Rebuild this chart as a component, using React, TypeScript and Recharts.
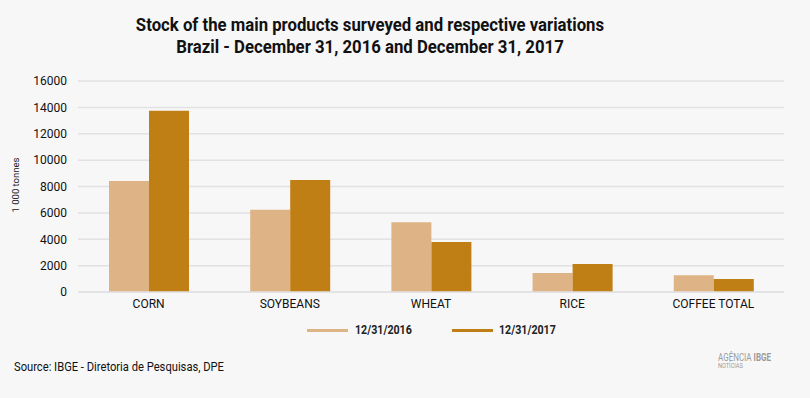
import { BarChart, Bar, XAxis, YAxis, CartesianGrid } from "recharts";

const products = ["CORN", "SOYBEANS", "WHEAT", "RICE", "COFFEE TOTAL"];
const stock2016 = [8420, 6230, 5290, 1440, 1270];
const stock2017 = [13750, 8500, 3790, 2120, 990];
const yTicks = [0, 2000, 4000, 6000, 8000, 10000, 12000, 14000, 16000];

const COLOR_2016 = "#deb385";
const COLOR_2017 = "#c07f14";

const data = products.map((p, i) => ({
  name: p,
  s2016: stock2016[i],
  s2017: stock2017[i],
}));

const legendText = {
  position: "absolute" as const,
  top: 322,
  fontFamily: "Roboto, sans-serif",
  fontSize: 13,
  fontWeight: 700,
  color: "#222",
  lineHeight: "16px",
  whiteSpace: "nowrap" as const,
  transform: "scaleX(0.82)",
  transformOrigin: "0 0",
};

const LegendBox = () => (
  <>
    <div style={{ position: "absolute", left: 307, top: 329, width: 41, height: 3, background: COLOR_2016 }} />
    <div style={{ ...legendText, left: 355 }}>12/31/2016</div>
    <div style={{ position: "absolute", left: 452, top: 329, width: 41, height: 3, background: COLOR_2017 }} />
    <div style={{ ...legendText, left: 499 }}>12/31/2017</div>
  </>
);

export default function App() {
  return (
    <div style={{ position: "absolute", left: 0, top: 0, width: 810, height: 398, background: "#f7f7f8", overflow: "hidden" }}>
      <div style={{ position: "absolute", left: 0, width: 740, top: 14, textAlign: "center", fontFamily: "Roboto, sans-serif", fontWeight: 700, fontSize: 18, lineHeight: "22px", color: "#111", transform: "scaleX(0.93)", transformOrigin: "370px 0" }}>
        Stock of the main products surveyed and respective variations
        <br />
        Brazil - December 31, 2016 and December 31, 2017
      </div>
      <div style={{ position: "absolute", left: 15, top: 185, transform: "translate(-50%, -50%) rotate(-90deg)", fontFamily: "Roboto, sans-serif", fontSize: 9.5, color: "#222", whiteSpace: "nowrap" }}>
        1 000 tonnes
      </div>
      <BarChart width={810} height={398} data={data} margin={{ top: 81, right: 26, bottom: 76, left: 0 }} barSize={40} barGap={0}>
        <CartesianGrid vertical={false} stroke="#e2e2e4" strokeWidth={1.5} />
        <XAxis dataKey="name" height={30} tickLine={false} axisLine={{ stroke: "#e2e2e4", strokeWidth: 1.5 }} tickSize={0} tickMargin={7} tick={{ fill: "#111", fontSize: 12, fontFamily: "Roboto, sans-serif" }} interval={0} />
        <YAxis width={78} domain={[0, 16000]} ticks={yTicks} tickLine={false} axisLine={false} tickSize={0} tickMargin={11} tick={{ fill: "#111", fontSize: 12, fontFamily: "Roboto, sans-serif" }} />
        <Bar dataKey="s2016" name="12/31/2016" fill={COLOR_2016} isAnimationActive={false} />
        <Bar dataKey="s2017" name="12/31/2017" fill={COLOR_2017} isAnimationActive={false} />
      </BarChart>
      <LegendBox />
      <div style={{ position: "absolute", left: 14, top: 359, fontFamily: "Roboto, sans-serif", fontSize: 13, color: "#111", transform: "scaleX(0.86)", transformOrigin: "0 0", whiteSpace: "nowrap" }}>
        Source: IBGE - Diretoria de Pesquisas, DPE
      </div>
      <div style={{ position: "absolute", left: 718, top: 353, fontFamily: "Roboto, sans-serif", color: "#9a9a9a", lineHeight: "9px", transform: "scaleX(0.8)", transformOrigin: "0 0", whiteSpace: "nowrap" }}>
        <div style={{ fontSize: 10 }}>AGÊNCIA <b>IBGE</b></div>
        <div style={{ fontSize: 7 }}>NOTÍCIAS</div>
      </div>
    </div>
  );
}
